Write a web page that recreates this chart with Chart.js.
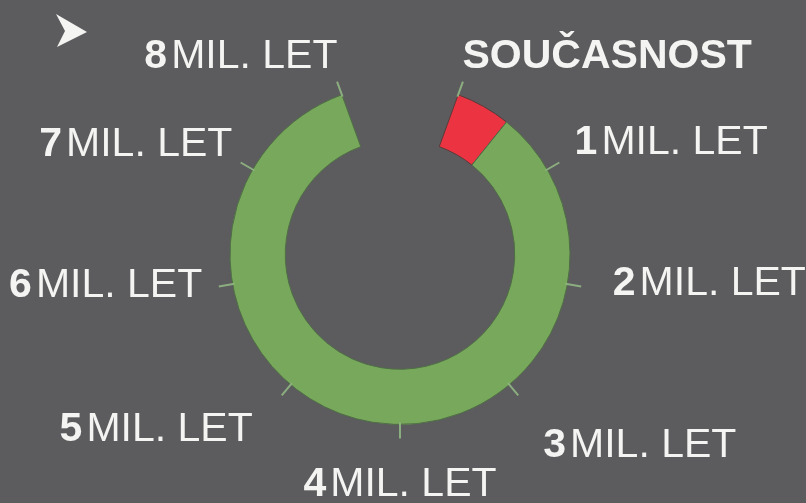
<!DOCTYPE html>
<html>
<head>
<meta charset="utf-8">
<script src="https://cdn.jsdelivr.net/npm/chart.js@4.4.1/dist/chart.umd.min.js"></script>
<style>
  html, body { margin: 0; padding: 0; background: #5c5c5e; }
  #wrap { width: 806px; height: 503px; position: relative; }
</style>
</head>
<body>
<div id="wrap"><canvas id="ring"></canvas></div>
<script>
// ── DATA (milióny let) ──────────────────────────────────────────────
const segmentNames  = ['Homo', 'Předchůdci', 'mezera'];
const segmentValues = [0.47, 7.53, 1.0];          // poslední = nezobrazená mezera
const segmentColors = ['#ec3341', '#78a85c', 'rgba(0,0,0,0)'];

const tickYears   = [0, 1, 2, 3, 4, 5, 6, 7, 8];
const tickNumbers = ['', '1', '2', '3', '4', '5', '6', '7', '8'];
const presentLabel = 'SOUČASNOST';
const unitLabel = 'MIL. LET';

// ── LAYOUT (not data) ───────────────────────────────────────────────
const LABEL_FONT = "'Liberation Sans', Arial, sans-serif";
const LABEL_SIZE = 41;
const labelAlign = ['left', 'left', 'left', 'left', 'center', 'right', 'right', 'right', 'right'];
const labelNudge = [[-10, 13], [-9, 5], [4, 4], [7, 40], [0, 29], [-11, 24], [11, 6], [16, 7], [10, 13]];

// ── RING DECORATIONS ────────────────────────────────────────────────
const ringDecor = {
  id: 'ringDecor',
  afterDatasetsDraw(chart) {
    const ctx = chart.ctx;
    const arc = chart.getDatasetMeta(0).data[0];
    const total = segmentValues.reduce((a, b) => a + b, 0);
    const perUnit = (Math.PI * 2) / total;
    const cx = arc.x, cy = arc.y, R = arc.outerRadius;

    ctx.save();
    // tick marks
    ctx.strokeStyle = 'rgba(145,182,132,0.9)';
    ctx.lineWidth = 2;
    tickYears.forEach(y => {
      const a = arc.startAngle + y * perUnit;
      ctx.beginPath();
      ctx.moveTo(cx + Math.cos(a) * (R - 2), cy + Math.sin(a) * (R - 2));
      ctx.lineTo(cx + Math.cos(a) * (R + 14), cy + Math.sin(a) * (R + 14));
      ctx.stroke();
    });

    // labels
    ctx.fillStyle = '#f4f4f2';
    ctx.textBaseline = 'alphabetic';
    ctx.textAlign = 'left';
    const labR = R + 42;
    tickYears.forEach((y, i) => {
      const a = arc.startAngle + y * perUnit;
      const px = cx + Math.cos(a) * labR + labelNudge[i][0];
      const py = cy + Math.sin(a) * labR + labelNudge[i][1];
      let parts;
      if (i === 0) {
        parts = [{ t: presentLabel, f: `bold ${LABEL_SIZE}px ${LABEL_FONT}` }];
      } else {
        parts = [
          { t: tickNumbers[i], f: `bold ${LABEL_SIZE}px ${LABEL_FONT}`, gap: 4 },
          { t: unitLabel, f: `${LABEL_SIZE}px ${LABEL_FONT}` }
        ];
      }
      let w = 0;
      parts.forEach(p => { ctx.font = p.f; p.w = ctx.measureText(p.t).width; w += p.w + (p.gap || 0); });
      let x = px;
      if (labelAlign[i] === 'right') x = px - w;
      else if (labelAlign[i] === 'center') x = px - w / 2;
      parts.forEach(p => { ctx.font = p.f; ctx.fillText(p.t, x, py); x += p.w + (p.gap || 0); });
    });

    // arrowhead mark, top-left corner
    ctx.beginPath();
    ctx.moveTo(56, 14);
    ctx.lineTo(87, 32);
    ctx.lineTo(57, 47);
    ctx.lineTo(65, 31);
    ctx.closePath();
    ctx.fill();
    ctx.restore();
  }
};

new Chart(document.getElementById('ring'), {
  type: 'doughnut',
  data: {
    labels: segmentNames,
    datasets: [{
      data: segmentValues,
      backgroundColor: segmentColors,
      borderColor: ['#5a3a3a', '#4f6e45', 'rgba(0,0,0,0)'],
      borderWidth: 1,
      hoverOffset: 0,
      offset: 0
    }]
  },
  options: {
    responsive: true,
    maintainAspectRatio: false,
    animation: false,
    rotation: 20,
    cutout: '67.5%',
    layout: { padding: { top: 84, bottom: 78, left: 0, right: 6 } },
    plugins: {
      legend: { display: false },
      tooltip: { enabled: false }
    }
  },
  plugins: [ringDecor]
});
</script>
</body>
</html>
